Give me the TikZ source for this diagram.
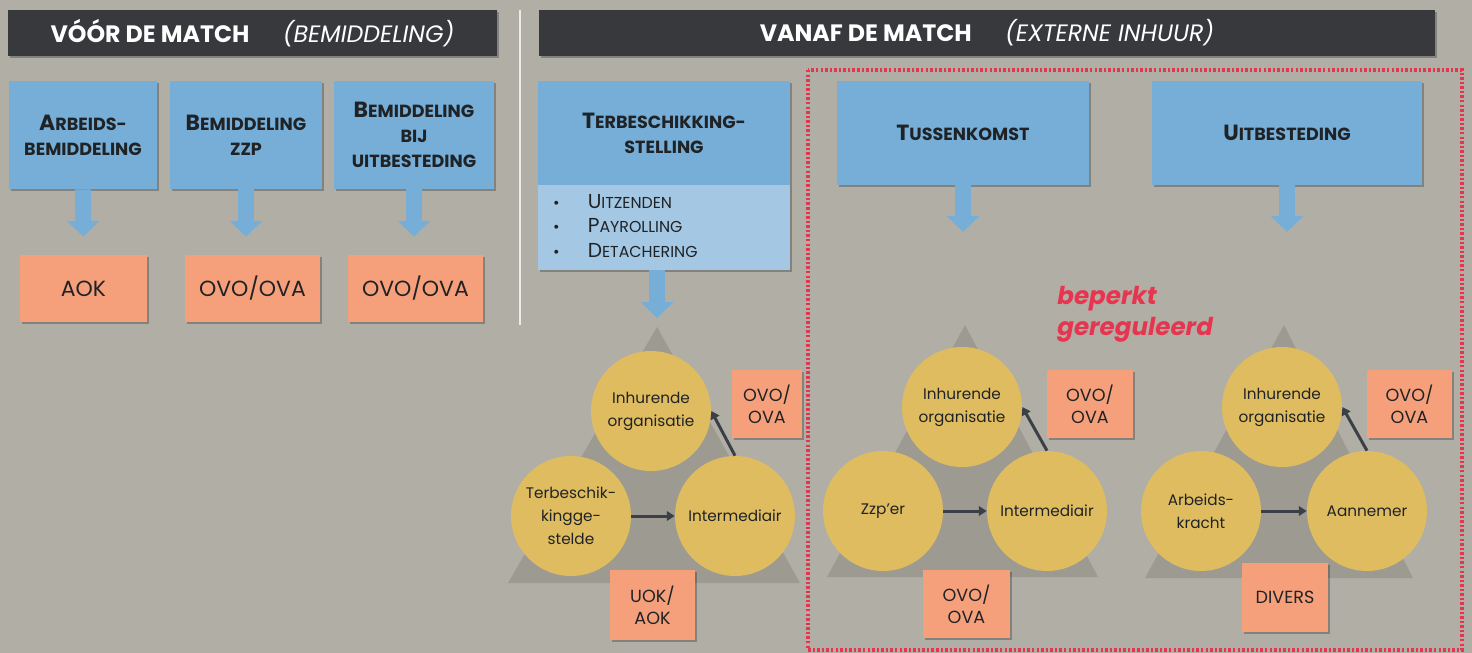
\documentclass[tikz,border=0pt]{standalone}
\usepackage{fontspec}
\setmainfont{Poppins}
\usetikzlibrary{arrows.meta, shadows}

\definecolor{bg}{HTML}{B1AEA6}
\definecolor{hdr}{HTML}{37393C}
\definecolor{blu}{HTML}{76AED8}
\definecolor{lblu}{HTML}{A4C7E4}
\definecolor{ora}{HTML}{F5A07B}
\definecolor{gold}{HTML}{DFBC5F}
\definecolor{tri}{HTML}{9D9A92}
\definecolor{rood}{HTML}{E8354F}
\definecolor{ink}{HTML}{202326}
\definecolor{pijl}{HTML}{3A4046}

\newcommand\bc[1]{{\fontsize{12.5}{14}\selectfont #1}}

\tikzset{
  boxshadow/.style={drop shadow={shadow xshift=1.2pt, shadow yshift=-1.2pt, opacity=0.25, fill=black}},
  header/.style={fill=hdr, text=white, minimum height=0.92cm, font=\fontsize{13.5}{16}\selectfont, boxshadow},
  titel/.style={fill=blu, text=ink, minimum height=2.16cm, align=center, font=\fontsize{10}{14.2}\selectfont\bfseries, boxshadow},
  wet/.style={fill=ora, text=ink, minimum height=1.34cm, font=\fontsize{12.5}{14}\selectfont, boxshadow},
  wetklein/.style={fill=ora, text=ink, align=center, font=\fontsize{10}{12.5}\selectfont, boxshadow},
  rol/.style={circle, fill=gold, text=ink, minimum size=2.4cm, inner sep=0pt, align=center, font=\fontsize{8.7}{13}\selectfont},
  blokpijl/.style={draw=blu, line width=9pt, -{Triangle[width=18pt, length=9pt]}},
  relpijl/.style={draw=pijl, line width=1.7pt, -{Triangle[width=5.5pt, length=4.5pt]}}
}

\begin{document}
\begin{tikzpicture}[x=0.02cm, y=-0.02cm]
    \fill[bg] (0,0) rectangle (1472,653);

    \node[header, minimum width=9.78cm] (hl) at (252.5,33) {\textbf{VÓÓR DE MATCH}\hspace{19pt}\textit{(BEMIDDELING)}};
    \node[header, minimum width=17.92cm] (hr) at (987,33) {\textbf{VANAF DE MATCH}\hspace{19pt}\textit{(EXTERNE INHUUR)}};
    \draw[line width=1pt, white!75!bg] (520,10) -- (520,325);

    \node[titel, minimum width=2.96cm] (arb) at (83,135) {\bc{A}RBEIDS-\\BEMIDDELING};
    \node[titel, minimum width=3.04cm] (zzp) at (246,135) {\bc{B}EMIDDELING\\ZZP};
    \node[titel, minimum width=3.2cm] (bbu) at (414,135) {\bc{B}EMIDDELING\\BIJ\\UITBESTEDING};

    \node[wet, minimum width=2.54cm] (aok) at (83.5,288.5) {AOK};
    \node[wet, minimum width=2.7cm] (ovo1) at (252.5,288.5) {OVO/OVA};
    \node[wet, minimum width=2.7cm] (ovo2) at (415.5,288.5) {OVO/OVA};

    \draw[blokpijl, shorten >=10.2pt] (arb.south) -- (aok.north);
    \draw[blokpijl, shorten >=10.2pt] (zzp.south) -- (zzp.south |- ovo1.north);
    \draw[blokpijl, shorten >=10.2pt] (bbu.south) -- (bbu.south |- ovo2.north);

    \node[titel, minimum width=5.04cm, minimum height=2.08cm] (tbs) at (664,133) {\bc{T}ERBESCHIKKING-\\STELLING};
    \node[fill=lblu, minimum width=5.04cm, minimum height=1.7cm, boxshadow] (tbl) at (664,227.5) {};
    \node[anchor=west, align=left, text=ink, font=\fontsize{9}{14}\selectfont] (lst) at (547,226)
        {\textbullet\hspace{16pt}{\fontsize{11.5}{14}\selectfont U}ITZENDEN\\\textbullet\hspace{16pt}{\fontsize{11.5}{14}\selectfont P}AYROLLING\\\textbullet\hspace{16pt}{\fontsize{11.5}{14}\selectfont D}ETACHERING};
    \node[titel, minimum width=5.04cm, minimum height=2.08cm] (tk) at (963,133) {\bc{T}USSENKOMST};
    \node[titel, minimum width=5.4cm, minimum height=2.08cm] (ub) at (1287,133) {\bc{U}ITBESTEDING};

    \coordinate (a1) at (657,327);
    \coordinate (a2) at (965,325);
    \coordinate (a3) at (1284,325);
    \draw[blokpijl, shorten >=5.1pt] (a1 |- tbl.south) -- (a1);
    \draw[blokpijl, shorten >=53pt] (tk.south) -- (tk.south |- a2);
    \draw[blokpijl, shorten >=53pt] (ub.south) -- (ub.south |- a3);

    \draw[rood, line width=2pt, dash pattern=on 1.4pt off 1.2pt] (808,70) rectangle (1462,650);
    \node[anchor=north west, inner sep=0pt, align=left, text=rood, font=\fontsize{14}{17.6}\selectfont\bfseries\itshape] (bpg) at (1057,286) {beperkt\\gereguleerd};

    \fill[tri] (a1) -- (800,583) -- (508,583) -- cycle;
    \node[rol] (io1) at (651,411) {Inhurende\\organisatie};
    \node[rol] (tg1) at (571,516) {Terbeschik-\\kingge-\\stelde};
    \node[rol] (im1) at (735,516) {Intermediair};
    \draw[relpijl] (tg1) -- (im1);
    \draw[relpijl] (im1.north) -- (io1.east);
    \node[wetklein, minimum width=1.4cm, minimum height=1.36cm] (w1) at (767,404) {OVO/\\OVA};
    \node[wetklein, minimum width=1.7cm, minimum height=1.4cm] (u1) at (652.5,605) {UOK/\\AOK};

    \fill[tri] (a2) -- (1098,577) -- (827,577) -- cycle;
    \node[rol] (io2) at (962,407) {Inhurende\\organisatie};
    \node[rol] (zp2) at (883,511) {Zzp'er};
    \node[rol] (im2) at (1047,511) {Intermediair};
    \draw[relpijl] (zp2) -- (im2);
    \draw[relpijl] (im2.north) -- (io2.east);
    \node[wetklein, minimum width=1.72cm, minimum height=1.36cm] (w2) at (1090,404) {OVO/\\OVA};
    \node[wetklein, minimum width=1.74cm, minimum height=1.36cm] (u2) at (966.5,604) {OVO/\\OVA};

    \fill[tri] (a3) -- (1413,578) -- (1145,578) -- cycle;
    \node[rol] (io3) at (1282,407) {Inhurende\\organisatie};
    \node[rol] (ak3) at (1201,511) {Arbeids-\\kracht};
    \node[rol] (an3) at (1367,511) {Aannemer};
    \draw[relpijl] (ak3) -- (an3);
    \draw[relpijl] (an3.north) -- (io3.east);
    \node[wetklein, minimum width=1.7cm, minimum height=1.36cm] (w3) at (1409.5,404) {OVO/\\OVA};
    \node[wetklein, minimum width=1.72cm, minimum height=1.38cm] (u3) at (1285,597.5) {DIVERS};
\end{tikzpicture}
\end{document}
